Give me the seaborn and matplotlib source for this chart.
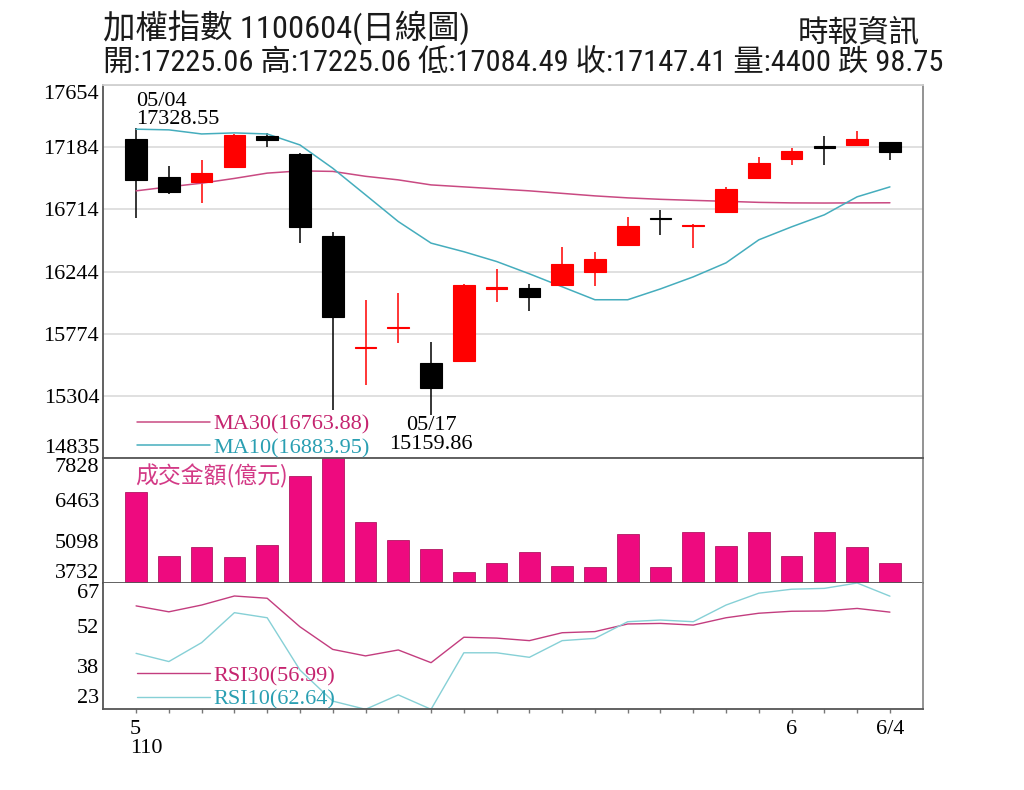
import numpy as np
import pandas as pd
import matplotlib
matplotlib.use('Agg')
import matplotlib.pyplot as plt
import matplotlib.transforms as mtransforms
from matplotlib import font_manager
import seaborn as sns

# ---- values (TAIEX daily, 110/05/04 - 110/06/04) ----
dates = ['05/04', '05/05', '05/06', '05/07', '05/10', '05/11', '05/12', '05/13',
         '05/14', '05/17', '05/18', '05/19', '05/20', '05/21', '05/24', '05/25',
         '05/26', '05/27', '05/28', '05/31', '06/01', '06/02', '06/03', '06/04']
opens = [17244, 16962, 16924, 17033, 17269, 17133, 16516, 15670,
         15815, 15556, 15566, 16115, 16119, 16144, 16244, 16446,
         16652, 16590, 16693, 16950, 17096, 17190, 17199, 17225.06]
highs = [17328.55, 17045, 17088, 17280, 17290, 17140, 16546, 16030,
         16081, 15715, 16150, 16262, 16151, 16433, 16395, 16660,
         16710, 16602, 16882, 17108, 17176, 17269, 17307, 17225.06]
lows = [16652, 16830, 16761, 17030, 17189, 16459, 15199, 15388,
        15703, 15159.86, 15566, 16017, 15949, 16140, 16136, 16440,
        16521, 16421, 16690, 16948, 17050, 17050, 17199, 17084.49]
closes = [16937, 16844, 16992, 17277, 17237, 16584, 15904, 15677,
          15828, 15363, 16144, 16126, 16051, 16302, 16338, 16592,
          16645, 16597, 16867, 17063, 17158, 17178, 17246.16, 17147.41]
ma30 = [16854, 16884, 16912, 16948, 16988, 17005, 17001, 16964,
        16937, 16899, 16884, 16869, 16854, 16835, 16816, 16801,
        16790, 16782, 16775, 16767, 16763, 16762, 16763, 16763.88]
ma10 = [17320, 17315, 17284, 17292, 17284, 17201, 17025, 16824,
        16622, 16459, 16394, 16320, 16227, 16129, 16031, 16031,
        16113, 16204, 16310, 16484, 16582, 16673, 16809, 16883.95]
volume = [6724, 4617, 4921, 4574, 4987, 7238, 7828, 5741,
          5141, 4836, 4102, 4377, 4757, 4299, 4266, 5328,
          4266, 5403, 4954, 5403, 4626, 5403, 4921, 4400]
rsi30 = [59.2, 57.1, 59.5, 62.7, 61.9, 51.8, 43.8, 41.5,
         43.6, 39.1, 48.1, 47.8, 46.9, 49.7, 50.1, 52.8,
         53.0, 52.4, 55.0, 56.6, 57.3, 57.4, 58.3, 56.99]
rsi10 = [42.4, 39.5, 46.2, 56.8, 55.0, 36.5, 25.5, 22.6,
         27.7, 22.6, 42.6, 42.6, 41.0, 46.9, 47.7, 53.6,
         54.2, 53.6, 59.5, 63.7, 65.1, 65.4, 67.3, 62.64]

price_ticks = [17654, 17184, 16714, 16244, 15774, 15304, 14835]
vol_ticks = [7828, 6463, 5098, 3732]
rsi_ticks = [67, 52, 38, 23]
rsi_range = (22.6, 67.3)
month_labels = {0: '5\n110', 20: '6', 23: '6/4'}

df = pd.DataFrame({'idx': np.arange(len(dates)), 'date': dates,
                   'open': opens, 'high': highs, 'low': lows, 'close': closes,
                   'ma30': ma30, 'ma10': ma10, 'volume': volume,
                   'rsi30': rsi30, 'rsi10': rsi10})

RED = '#ff0000'
PINK = '#ee0a7f'
MA30_C, MA10_C = '#c94a82', '#45adbd'
RSI30_C, RSI10_C = '#c33d7f', '#86d0d6'
TXT30_C, TXT10_C = '#c5246f', '#2a9fb2'
DARK = '#555555'

sns.set_theme(style='white')
plt.rcParams['font.family'] = ['Liberation Serif', 'Noto Sans CJK TC']
plt.rcParams['axes.unicode_minus'] = False

# narrow sans for the header digits, if one is around
fonts = font_manager.fontManager.ttflist
names = {f.name for f in fonts}
narrow, stretch = 'Liberation Sans', 'normal'
for cand in ['Liberation Sans Narrow', 'Roboto Condensed', 'Open Sans Condensed',
             'Noto Sans Condensed', 'DejaVu Sans Condensed']:
    if cand in names:
        narrow = cand
        break
else:
    cond = [f.name for f in fonts if str(f.stretch) in ('condensed', 'semi-condensed')
            and 'CJK' not in f.name and 'Serif' not in f.name and 'Mono' not in f.name]
    if cond:
        narrow, stretch = cond[0], 'condensed'
head_font = [narrow, 'Noto Sans CJK TC']

fig = plt.figure(figsize=(10.24, 7.9), dpi=100, facecolor='white')
L, W = 103.3 / 1024, 819.4 / 1024


def box(top, bottom):
    return [L, 1 - bottom / 790, W, (bottom - top) / 790]


ax_p = fig.add_axes(box(85, 458))
ax_v = fig.add_axes(box(458, 583))
ax_r = fig.add_axes(box(583, 709.3))
ax_p.set_zorder(3)

# --- price panel: candles + moving averages ---
up = df['close'] >= df['open']
cols = np.where(up, RED, 'black')
ax_p.vlines(df['idx'], df['low'], df['high'], colors=cols, lw=1.1, zorder=2)
ax_p.bar(df['idx'], (df['close'] - df['open']).abs().clip(lower=4),
         bottom=df[['open', 'close']].min(axis=1), width=0.66,
         color=cols, edgecolor=cols, lw=0.8, zorder=3)
sns.lineplot(data=df, x='idx', y='ma30', color=MA30_C, lw=1.1, ax=ax_p,
             label=f'MA30({ma30[-1]:.2f})', zorder=2)
sns.lineplot(data=df, x='idx', y='ma10', color=MA10_C, lw=1.1, ax=ax_p,
             label=f'MA10({ma10[-1]:.2f})', zorder=2)
ax_p.legend(loc='lower left', bbox_to_anchor=(0.041, 0.0), frameon=False,
            borderpad=0, borderaxespad=0, handlelength=3.3, handletextpad=0.15,
            labelspacing=0.12, prop={'family': 'Liberation Serif', 'size': 16},
            labelcolor=[TXT30_C, TXT10_C])

ax_p.annotate(f'{dates[0]}\n{highs[0]:.2f}', xy=(0, highs[0]), xytext=(0, -1),
              textcoords='offset points', ha='left', va='bottom', fontsize=16,
              linespacing=0.95, color='black')
lo_i = int(np.argmin(lows))
ax_p.annotate(f'{dates[lo_i]}\n{lows[lo_i]:.2f}', xy=(lo_i, lows[lo_i]), xytext=(0, -1),
              textcoords='offset points', ha='center', va='top', fontsize=16,
              linespacing=1.0, color='black', annotation_clip=False)

ax_p.set_ylim(price_ticks[-1], price_ticks[0])
ax_p.set_yticks(price_ticks)
ax_p.set_yticklabels([str(t) for t in price_ticks])
ax_p.yaxis.grid(True, color='#dadada', lw=1.2)

# --- traded value panel ---
sns.barplot(data=df, x='idx', y='volume', native_scale=True, width=0.66,
            color=PINK, saturation=1, edgecolor='#a3004f', linewidth=0.5, ax=ax_v)
ax_v.set_ylim(vol_ticks[-1], vol_ticks[0])
ax_v.set_yticks(vol_ticks)
ax_v.set_yticklabels([str(t) for t in vol_ticks])
ax_v.text(0.039, 0.955, '成交金額(億元)', transform=ax_v.transAxes, ha='left', va='top',
          fontsize=16.5, color='#d33a86', family=['Noto Sans CJK TC'])

# --- RSI panel ---
sns.lineplot(data=df, x='idx', y='rsi30', color=RSI30_C, lw=1.0, ax=ax_r,
             label=f'RSI30({rsi30[-1]:.2f})')
sns.lineplot(data=df, x='idx', y='rsi10', color=RSI10_C, lw=1.0, ax=ax_r,
             label=f'RSI10({rsi10[-1]:.2f})')
ax_r.legend(loc='lower left', bbox_to_anchor=(0.041, 0.0), frameon=False,
            borderpad=0, borderaxespad=0, handlelength=3.3, handletextpad=0.15,
            labelspacing=0.12, prop={'family': 'Liberation Serif', 'size': 16},
            labelcolor=[TXT30_C, TXT10_C])
ax_r.set_ylim(*rsi_range)
ax_r.set_yticks(rsi_ticks)
ax_r.set_yticklabels([str(t) for t in rsi_ticks])

# --- shared styling ---
for ax in (ax_p, ax_v, ax_r):
    ax.set_xlim(-1, 24)
    ax.set_xlabel('')
    ax.set_ylabel('')
    ax.set_facecolor('white')
    ax.tick_params(axis='y', length=0, pad=3, labelsize=16, labelcolor='black')
    for s in ax.spines.values():
        s.set_linewidth(1.3)
    ax.spines['left'].set_color(DARK)
    ax.spines['bottom'].set_color(DARK)
    ax.spines['right'].set_color('#8a8a8a')
    labs = ax.get_yticklabels()
    labs[0].set_va('top')
    labs[-1].set_va('bottom')

ax_p.spines['top'].set_color('#d0d0d0')
ax_v.spines['top'].set_visible(False)
ax_r.spines['top'].set_visible(False)
for ax in (ax_p, ax_v):
    ax.tick_params(axis='x', bottom=False, labelbottom=False)

ax_r.set_xticks(df['idx'])
ax_r.set_xticklabels([month_labels.get(i, '') for i in df['idx']])
ax_r.tick_params(axis='x', bottom=True, direction='out', length=3, width=1,
                 color='#777777', pad=5, labelsize=16, labelcolor='black')
for lab in ax_r.get_xticklabels():
    if '\n' in lab.get_text():
        lab.set_ha('left')
        lab.set_multialignment('left')
        lab.set_linespacing(1.0)
        lab.set_transform(lab.get_transform() +
                          mtransforms.ScaledTranslation(-0.06, 0, fig.dpi_scale_trans))

# --- headers ---
chg = closes[-1] - closes[-2]
t1 = fig.text(103 / 1024, 1 - 28 / 790, '加權指數 1100604(日線圖)', ha='left', va='center',
              fontsize=23.5, color='#1a1a1a', family=head_font, fontstretch=stretch)
fig.text(920 / 1024, 1 - 34 / 790, '時報資訊', ha='right', va='center',
         fontsize=22, color='#1a1a1a', family=head_font, fontstretch=stretch)
t2 = fig.text(103 / 1024, 1 - 64 / 790,
              f'開:{opens[-1]:.2f} 高:{highs[-1]:.2f} 低:{lows[-1]:.2f} 收:{closes[-1]:.2f} '
              f'量:{volume[-1]} {"跌" if chg < 0 else "漲"} {abs(chg):.2f}',
              ha='left', va='center', fontsize=23, color='#1a1a1a', family=head_font,
              fontstretch=stretch)

# squeeze the header lines to the widths they take in the reference
fig.canvas.draw()
rend = fig.canvas.get_renderer()
for t, target in ((t1, 367), (t2, 842)):
    w = t.get_window_extent(rend).width
    if w > target:
        t.set_fontsize(t.get_fontsize() * target / w)

fig.savefig('out.png', dpi=100, facecolor='white')
